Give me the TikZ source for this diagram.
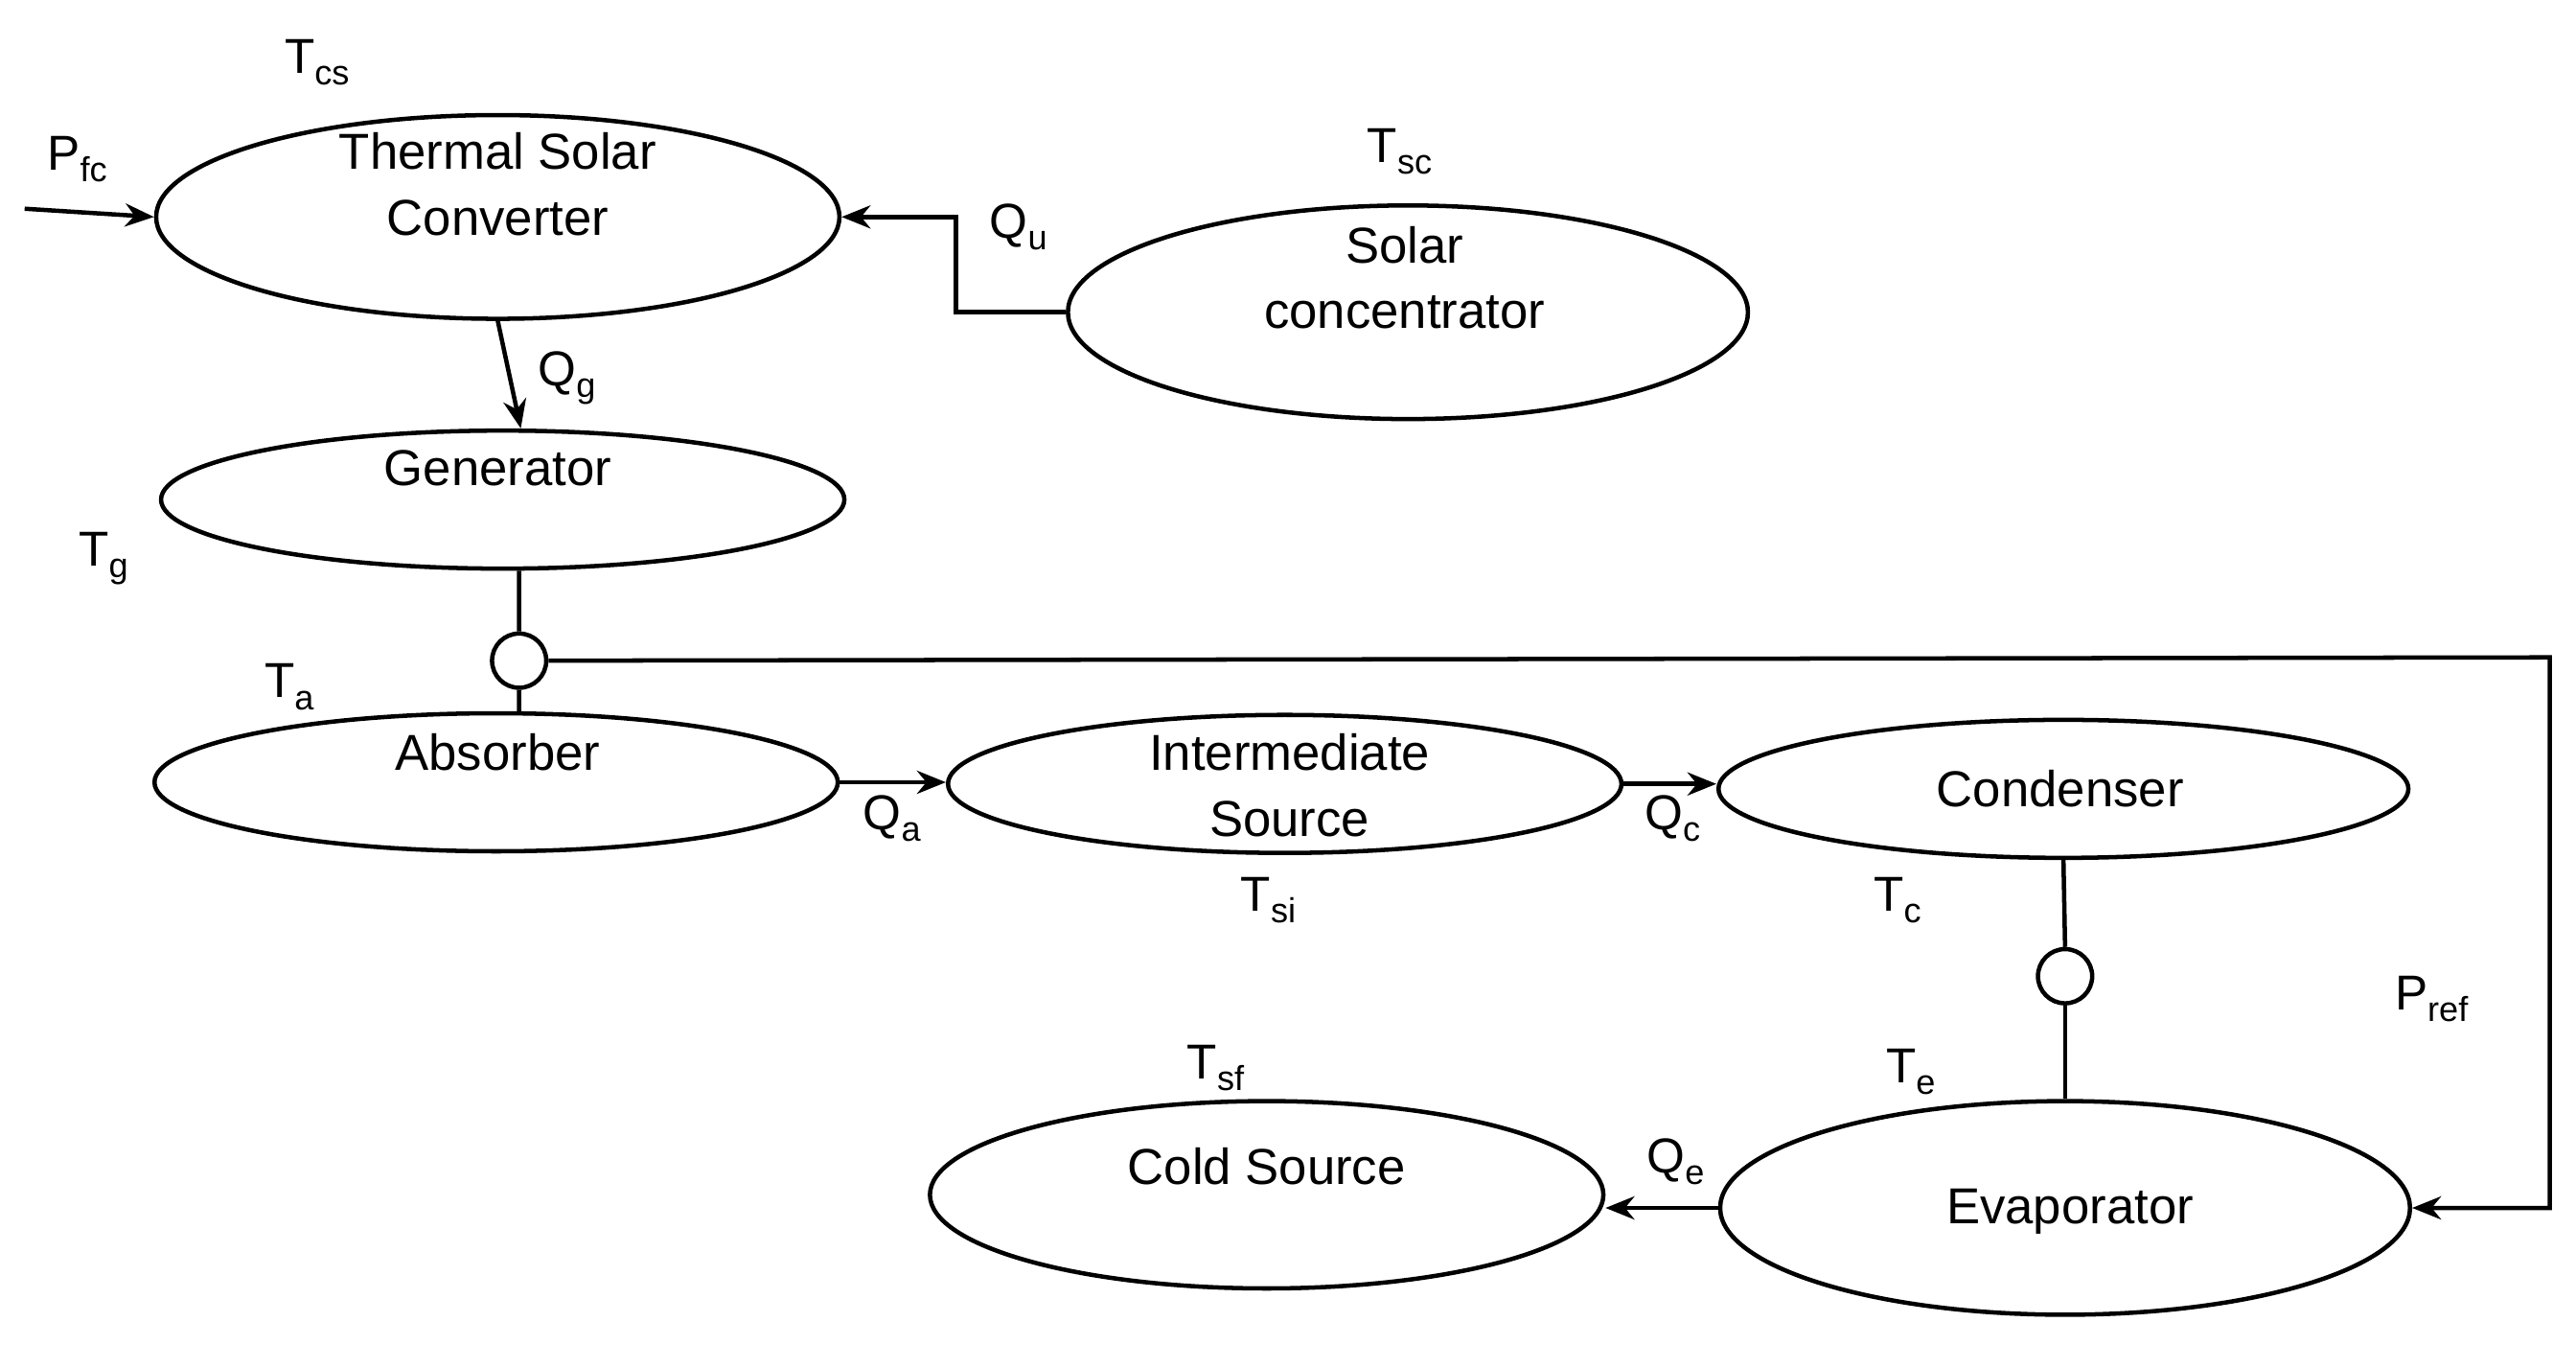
\documentclass[tikz,border=0pt]{standalone}
\usepackage{fontspec}
\setmainfont{Liberation Sans}
\usetikzlibrary{shapes.geometric,arrows.meta}
\newcommand{\sub}[1]{\raisebox{-0.45ex}{\fontsize{12}{14}\selectfont #1}}
\begin{document}
\begin{tikzpicture}[x=0.02cm,y=-0.02cm,line width=1.5pt,
  el/.style={draw,ellipse,inner sep=0pt},
  tx/.style={font=\fontsize{17.5}{20}\selectfont,align=center,inner sep=0pt},
  lb/.style={font=\fontsize{17}{20}\selectfont,inner sep=0pt},
  ar/.style={-{Stealth[length=10pt,width=8pt]}},
  sc/.style={draw,circle,minimum size=0.66cm,inner sep=0pt,fill=white}]
\useasboundingbox (0,0) rectangle (1568,818);
\node[el,minimum width=8.32cm,minimum height=2.48cm] (tsc) at (303,132) {};
\node[el,minimum width=8.28cm,minimum height=2.6cm] (sol) at (857,190) {};
\node[el,minimum width=8.32cm,minimum height=1.68cm] (gen) at (306,304) {};
\node[el,minimum width=8.32cm,minimum height=1.68cm] (abs) at (302,476) {};
\node[el,minimum width=8.2cm,minimum height=1.68cm] (int) at (782,477) {};
\node[el,minimum width=8.4cm,minimum height=1.68cm] (con) at (1256,480) {};
\node[el,minimum width=8.2cm,minimum height=2.28cm] (cold) at (771,727) {};
\node[el,minimum width=8.4cm,minimum height=2.6cm] (eva) at (1257,735) {};
\node[sc] (c1) at (316,402) {};
\node[sc] (c2) at (1257,594) {};
\node[tx] at (303,112) {Thermal Solar\\[0.1cm]Converter};
\node[tx] at (855,169) {Solar\\[0.1cm]concentrator};
\node[tx] at (303,285) {Generator};
\node[tx] at (303,458) {Absorber};
\node[tx] at (785,478) {Intermediate\\[0.1cm]Source};
\node[tx] at (1254,480) {Condenser};
\node[tx] at (771,710) {Cold Source};
\node[tx] at (1260,737) {Evaporator};
\coordinate (pin) at (15,127);
\coordinate (q1) at (582,197);
\coordinate (r1) at (1552,400);
\draw[ar] (pin) -- (tsc.west);
\draw[ar] (sol.west) -- (q1 |- sol.west) -- (q1 |- tsc.east) -- (tsc.east);
\draw[ar] (tsc.south) -- ([xshift=0.22cm]gen.north);
\draw ([xshift=0.2cm]gen.south) -- (c1.north);
\draw (c1.south) -- ([xshift=0.28cm]abs.north);
\draw[ar] (c1.east) -- (r1) -- (r1 |- eva.east) -- (eva.east);
\draw[ar] (abs.east) -- (abs.east -| int.west);
\draw[ar] (int.east) -- (int.east -| con.west);
\draw (con.south) -- (c2.north);
\draw (c2.south) -- (eva.north);
\draw[ar] (eva.west) -- (eva.west -| cold.east);
\node[lb] at (193,38) {T\sub{cs}};
\node[lb] at (47,97) {P\sub{fc}};
\node[lb] at (852,92) {T\sub{sc}};
\node[lb] at (620,138) {Q\sub{u}};
\node[lb] at (345,230) {Q\sub{g}};
\node[lb] at (63,340) {T\sub{g}};
\node[lb] at (176,418) {T\sub{a}};
\node[lb] at (543,498) {Q\sub{a}};
\node[lb] at (1018,498) {Q\sub{c}};
\node[lb] at (772,548) {T\sub{si}};
\node[lb] at (1155,548) {T\sub{c}};
\node[lb] at (1480,608) {P\sub{ref}};
\node[lb] at (740,650) {T\sub{sf}};
\node[lb] at (1163,652) {T\sub{e}};
\node[lb] at (1020,707) {Q\sub{e}};
\end{tikzpicture}
\end{document}
